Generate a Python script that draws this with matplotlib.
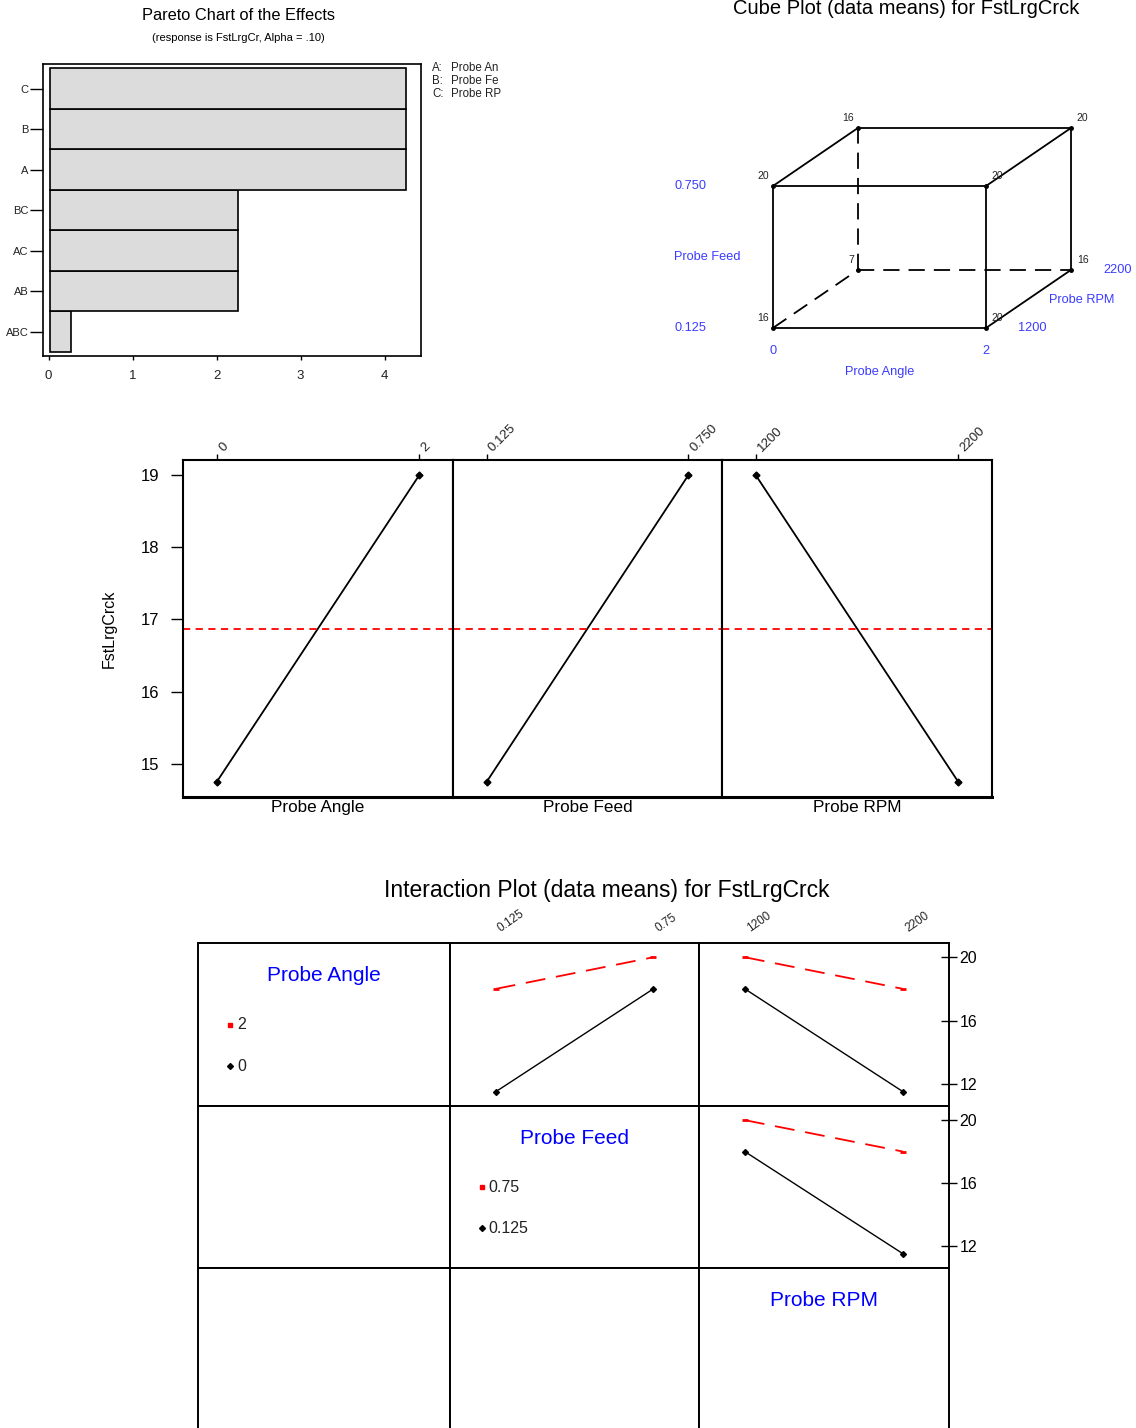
import matplotlib
matplotlib.use("Agg")
import matplotlib.pyplot as plt

plt.rcParams['font.family'] = ['Liberation Sans', 'DejaVu Sans']

W, H = 1136, 1428

# ---------------- data ----------------
pareto_terms = ['ABC', 'AB', 'AC', 'BC', 'A', 'B', 'C']
pareto_effects = [0.25, 2.25, 2.25, 2.25, 4.25, 4.25, 4.25]
pareto_xticks = [0, 1, 2, 3, 4]
pareto_legend = [('A:', 'Probe An'), ('B:', 'Probe Fe'), ('C:', 'Probe RP')]

factor_names = ['Probe Angle', 'Probe Feed', 'Probe RPM']
angle_levels = ['0', '2']
feed_levels = ['0.125', '0.750']
rpm_levels = ['1200', '2200']
me_angle = [14.75, 19.0]
me_feed = [14.75, 19.0]
me_rpm = [19.0, 14.75]
grand_mean = 16.875
me_yticks = [15, 16, 17, 18, 19]

# cube corners: (angle idx, feed idx, rpm idx) and data means
cube_corners = [(0, 0, 0), (1, 0, 0), (0, 1, 0), (1, 1, 0),
                (0, 0, 1), (1, 0, 1), (0, 1, 1), (1, 1, 1)]
cube_means = [16, 20, 20, 20, 7, 16, 16, 20]

# interaction means
ix_feed_levels = ['0.125', '0.75']
ix_rpm_levels = ['1200', '2200']
ix_af_angle0 = [11.5, 18.0]
ix_af_angle2 = [18.0, 20.0]
ix_ar_angle0 = [18.0, 11.5]
ix_ar_angle2 = [20.0, 18.0]
ix_fr_feed0125 = [18.0, 11.5]
ix_fr_feed075 = [20.0, 18.0]
ix_yticks = [12, 16, 20]
angle_legend = ['2', '0']
feed_legend = ['0.75', '0.125']

fig = plt.figure(figsize=(W / 100, H / 100), dpi=100)


def ax_px(x0, y0, x1, y1, **kw):
    return fig.add_axes([x0 / W, 1 - y1 / H, (x1 - x0) / W, (y1 - y0) / H], **kw)


def fig_text(x, y, s, **kw):
    fig.text(x / W, 1 - y / H, s, **kw)


# ---------------- Pareto chart ----------------
axp = ax_px(43.3, 64.3, 420.7, 356)
ypos = list(range(len(pareto_terms)))
axp.barh(ypos, pareto_effects, height=1.0, left=0.01, color='#dcdcdc',
         edgecolor='black', linewidth=1.2)
axp.set_xlim(-0.064, 4.43)
axp.set_ylim(-0.6, 6.6)
axp.set_yticks(ypos)
axp.set_yticklabels(pareto_terms, fontsize=8, color='#222222')
axp.set_xticks(pareto_xticks)
axp.set_xticklabels([str(t) for t in pareto_xticks], fontsize=9.5, color='#222222')
axp.tick_params(axis='y', length=9.5, width=1, pad=1)
axp.tick_params(axis='x', length=3, width=1, pad=7)
for s in axp.spines.values():
    s.set_linewidth(1.2)
fig_text(238, 15, 'Pareto Chart of the Effects', fontsize=11.8, ha='center', va='center')
fig_text(238, 38, '(response is FstLrgCr, Alpha = .10)', fontsize=8, ha='center', va='center')
for i, (k, v) in enumerate(pareto_legend):
    fig_text(432, 68 + i * 13, k, fontsize=8.3, ha='left', va='center', color='#222222')
    fig_text(451, 68 + i * 13, v, fontsize=8.3, ha='left', va='center', color='#222222')

# ---------------- Cube plot ----------------
axc = ax_px(640, 30, 1136, 390)
axc.set_xlim(-0.624, 1.704)
axc.set_ylim(-0.437, 2.099)
axc.axis('off')
DX, DY = 0.40, 0.41


def proj(c):
    a, f, r = c
    return a + DX * r, f + DY * r


hidden = (0, 0, 1)
for i, c1 in enumerate(cube_corners):
    for c2 in cube_corners[i + 1:]:
        if sum(abs(p - q) for p, q in zip(c1, c2)) == 1:
            p1, p2 = proj(c1), proj(c2)
            dashed = hidden in (c1, c2)
            axc.plot([p1[0], p2[0]], [p1[1], p2[1]], color='black', lw=1.3,
                     linestyle=(0, (9, 5)) if dashed else '-')
for c, v in zip(cube_corners, cube_means):
    x, y = proj(c)
    axc.plot([x], [y], marker='o', ms=2.5, color='black')
    if c[0] == 0:
        axc.annotate(str(v), (x, y), xytext=(-3, 7), textcoords='offset points',
                     ha='right', va='center', fontsize=7.5, color='#222222')
    else:
        axc.annotate(str(v), (x, y), xytext=(4, 7), textcoords='offset points',
                     ha='left', va='center', fontsize=7.5, color='#222222')
blue2 = '#3b3bff'
bfs = 9.2
axc.text(-0.46, 1, feed_levels[1], color=blue2, fontsize=bfs, ha='left', va='center')
axc.text(-0.46, 0, feed_levels[0], color=blue2, fontsize=bfs, ha='left', va='center')
axc.text(-0.465, 0.5, factor_names[1], color=blue2, fontsize=bfs, ha='left', va='center')
axc.text(0, -0.16, angle_levels[0], color=blue2, fontsize=bfs, ha='center', va='center')
axc.text(1, -0.16, angle_levels[1], color=blue2, fontsize=bfs, ha='center', va='center')
axc.text(0.5, -0.31, factor_names[0], color=blue2, fontsize=bfs, ha='center', va='center')
axc.text(1.15, 0, rpm_levels[0], color=blue2, fontsize=bfs, ha='left', va='center')
axc.text(1.55, DY, rpm_levels[1], color=blue2, fontsize=bfs, ha='left', va='center')
axc.text(1.295, 0.20, factor_names[2], color=blue2, fontsize=bfs, ha='left', va='center')
fig_text(906, 9, 'Cube Plot (data means) for FstLrgCrck', fontsize=14.5, ha='center', va='center')

# ---------------- Main effects ----------------
me_cols = [183, 453, 722, 992]
me_data = [me_angle, me_feed, me_rpm]
me_levels = [angle_levels, feed_levels, rpm_levels]
me_axes = []
for k in range(3):
    ax = ax_px(me_cols[k], 460, me_cols[k + 1], 797)
    me_axes.append(ax)
    ax.plot([0, 1], me_data[k], color='black', lw=1.3, marker='D', ms=3.5,
            markerfacecolor='black')
    ax.axhline(grand_mean, color='red', lw=1.3, linestyle=(0, (4, 3)))
    ax.set_xlim(-1 / 6, 7 / 6)
    ax.set_ylim(14.54, 19.21)
    ax.xaxis.set_ticks_position('top')
    ax.set_xticks([0, 1])
    ax.set_xticklabels(me_levels[k], rotation=45, fontsize=9.5, ha='left',
                       va='top', rotation_mode='anchor', color='#222222')
    ax.tick_params(axis='x', direction='out', length=4, width=1, pad=6)
    ax.set_xlabel(factor_names[k], fontsize=12.3, labelpad=0)
    ax.xaxis.set_label_position('bottom')
    ax.xaxis.label.set_va('top')
    for s in ax.spines.values():
        s.set_linewidth(1.5)
    ax.spines['bottom'].set_linewidth(2.2)
    if k == 0:
        ax.set_yticks(me_yticks)
        ax.set_yticklabels([str(t) for t in me_yticks], fontsize=12)
        ax.tick_params(axis='y', direction='out', length=9, width=1, pad=8)
        ax.set_ylabel('FstLrgCrck', fontsize=11.5, labelpad=17)
    else:
        ax.set_yticks([])
for k, ax in enumerate(me_axes):
    ax.xaxis.set_label_coords(0.5, -0.008)

# ---------------- Interaction plot ----------------
ix_cols = [198, 450, 699, 949]
ix_rows = [943, 1106, 1268, 1430]
fig_text(607, 890, 'Interaction Plot (data means) for FstLrgCrck', fontsize=16.5,
         ha='center', va='center')
cells = {}
for r in range(3):
    for c in range(3):
        ax = ax_px(ix_cols[c], ix_rows[r], ix_cols[c + 1], ix_rows[r + 1])
        ax.set_xlim(-0.29, 1.29)
        ax.set_ylim(10.6, 20.9)
        ax.set_xticks([])
        ax.set_yticks([])
        for s in ax.spines.values():
            s.set_linewidth(1.4)
        cells[(r, c)] = ax

red_kw = dict(color='red', lw=1.3, linestyle=(0, (11, 6)), marker='_', ms=4,
              markeredgewidth=2, markerfacecolor='red', markeredgecolor='red')
blk_kw = dict(color='black', lw=1.0, linestyle='-', marker='D', ms=3,
              markerfacecolor='black')
pairs = {(0, 1): (ix_af_angle2, ix_af_angle0),
         (0, 2): (ix_ar_angle2, ix_ar_angle0),
         (1, 2): (ix_fr_feed075, ix_fr_feed0125)}
for key, (red_vals, blk_vals) in pairs.items():
    ax = cells[key]
    ax.plot([0, 1], red_vals, **red_kw)
    ax.plot([0, 1], blk_vals, **blk_kw)
    if key[1] == 2:
        ax.yaxis.set_ticks_position('right')
        ax.set_yticks(ix_yticks)
        ax.set_yticklabels([str(t) for t in ix_yticks], fontsize=11.5)
        ax.tick_params(axis='y', direction='inout', length=11, width=1, pad=2)

for c, levels in [(1, ix_feed_levels), (2, ix_rpm_levels)]:
    ax = cells[(0, c)]
    ax.xaxis.set_ticks_position('top')
    ax.set_xticks([0, 1])
    ax.set_xticklabels(levels, rotation=35, fontsize=8.5, ha='left', va='top',
                       rotation_mode='anchor', color='#222222')
    ax.tick_params(axis='x', length=0, pad=13)

blue = '#0000ff'
legend_cells = [((0, 0), factor_names[0], angle_legend),
                ((1, 1), factor_names[1], feed_legend),
                ((2, 2), factor_names[2], None)]
for key, name, labels in legend_cells:
    ax = cells[key]
    ax.text(0.5, 0.80, name, transform=ax.transAxes, color=blue, fontsize=15,
            ha='center', va='center')
    if labels:
        ax.plot([0.128], [0.50], transform=ax.transAxes, marker='s', ms=2.2,
                color='red', linestyle='none')
        ax.text(0.155, 0.50, labels[0], transform=ax.transAxes, fontsize=11.5,
                ha='left', va='center', color='#222222')
        ax.plot([0.128], [0.245], transform=ax.transAxes, marker='D', ms=3,
                color='black', linestyle='none')
        ax.text(0.155, 0.245, labels[1], transform=ax.transAxes, fontsize=11.5,
                ha='left', va='center', color='#222222')

fig.savefig('out.png', dpi=100)
